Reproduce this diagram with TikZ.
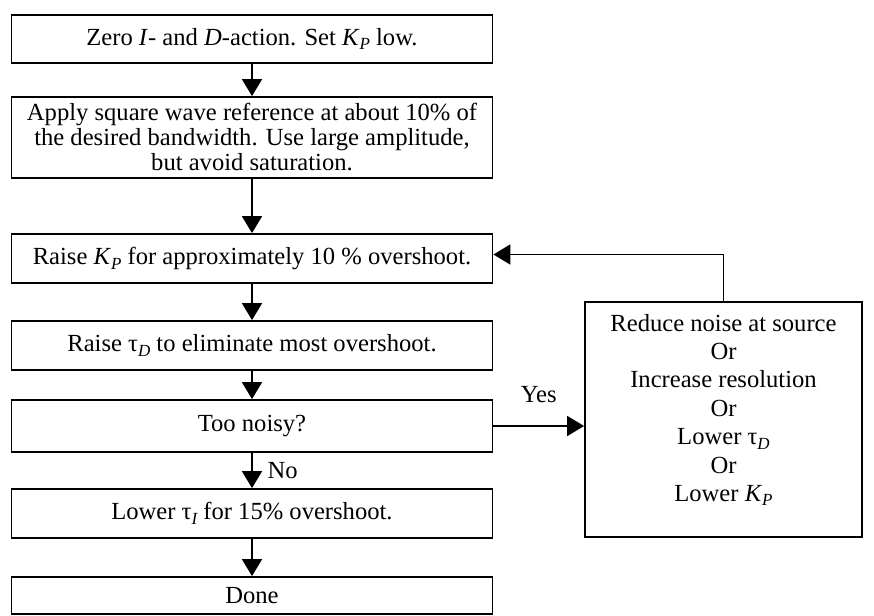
\documentclass[tikz,border=0pt]{standalone}
\usepackage{fontspec}
\setmainfont{Liberation Serif}
\usetikzlibrary{arrows.meta}
\newcommand{\lowsub}[1]{\raisebox{-0.4ex}{\fontsize{8.5}{8.5}\selectfont\itshape #1}}
\begin{document}
\begin{tikzpicture}[x=0.5pt,y=-0.5pt,
    stepbox/.style={draw,line width=0.9pt,minimum width=240.5pt,inner sep=0pt,
      align=center,font=\fontsize{12.3}{12.5}\selectfont},
    arr/.style={-{Triangle[length=8.5pt,width=10pt]},line width=0.9pt},
    lbl/.style={font=\fontsize{12.3}{12.5}\selectfont}]
  \useasboundingbox (0,0) rectangle (874,616);
  \node [stepbox,minimum height=24pt] (zero) at (252,39)
    {Zero \textit{I}- and \textit{D}-action. Set \textit{K}\lowsub{P} low.};
  \node [stepbox,minimum height=40.5pt] (apply) at (252,137.5)
    {Apply square wave reference at about 10\% of\\
     the desired bandwidth. Use large amplitude,\\
     but avoid saturation.};
  \node [stepbox,minimum height=24.5pt] (raisekp) at (252,258.5)
    {Raise \textit{K}\lowsub{P} for approximately 10 \% overshoot.};
  \node [stepbox,minimum height=24.5pt] (raisetd) at (252,345.5)
    {Raise τ\lowsub{D} to eliminate most overshoot.};
  \node [stepbox,minimum height=26pt] (noisy) at (252,426) {Too noisy?};
  \node [stepbox,minimum height=24.5pt] (lowerti) at (252,513.5)
    {Lower τ\lowsub{I} for 15\% overshoot.};
  \node [stepbox,minimum height=18.5pt] (done) at (252,595.5) {Done};
  \node [draw,line width=0.9pt,minimum width=138.5pt,minimum height=117.5pt,
    inner sep=0pt] (fix) at (723.5,419.5) {};
  \node [align=center,font=\fontsize{12.3}{14.2}\selectfont] (fixtext) at (723.5,410)
    {Reduce noise at source\\ Or\\ Increase resolution\\ Or\\
     Lower τ\lowsub{D}\\ Or\\ Lower \textit{K}\lowsub{P}};
  \draw [arr] (zero) -- (apply);
  \draw [arr] (apply) -- (raisekp);
  \draw [arr] (raisekp) -- (raisetd);
  \draw [arr] (raisetd) -- (noisy);
  \draw [arr] (noisy) -- node [lbl,right=4pt] {No} (lowerti);
  \draw [arr] (lowerti) -- (done);
  \draw [arr] (noisy.east) -- node [lbl,above=8pt] {Yes} (noisy.east -| fix.west);
  \draw [arr] (fix.north) |- ([yshift=2pt]raisekp.east);
\end{tikzpicture}
\end{document}
